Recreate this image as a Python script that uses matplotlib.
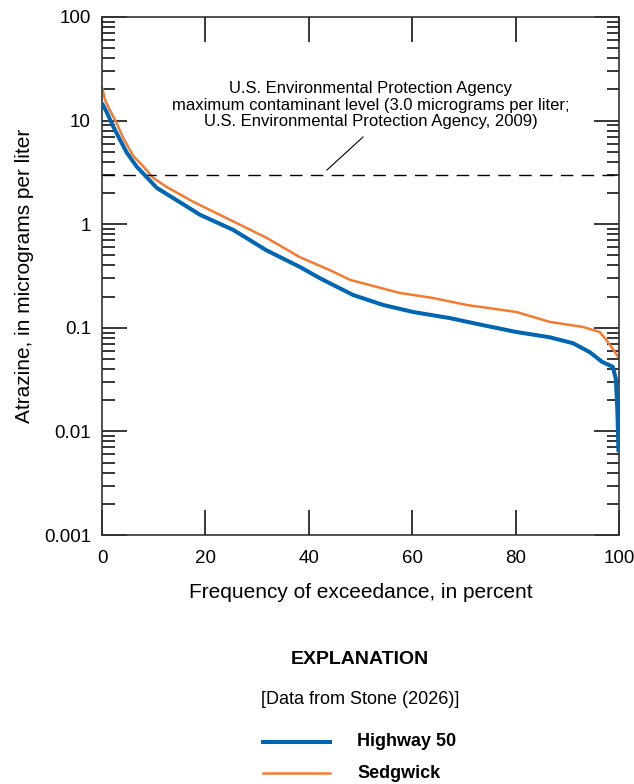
import numpy as np
import matplotlib
matplotlib.use("Agg")
import matplotlib.pyplot as plt
from matplotlib.ticker import LogLocator, NullFormatter
from matplotlib.lines import Line2D

plt.rcParams['font.family'] = ['Liberation Sans', 'DejaVu Sans']

# exceedance curves (percent, micrograms per liter)
hwy_x = [0, 1, 2.2, 3.5, 4.8, 6.7, 8.6, 10.6, 14.4, 19, 25.4, 31.8, 38.3, 42.2, 48.6, 54.4, 60.2,
         67.3, 73.7, 80.2, 86.6, 91.1, 94.4, 96.7, 98.8, 99.4, 99.7, 99.9]
hwy_y = [14.8, 11.8, 8.7, 6.5, 4.9, 3.6, 2.86, 2.24, 1.71, 1.23, 0.88, 0.56, 0.386, 0.30, 0.207, 0.166, 0.142,
         0.124, 0.106, 0.091, 0.081, 0.071, 0.058, 0.047, 0.042, 0.032, 0.015, 0.0063]

sed_x = [0, 0.6, 1.5, 2.8, 4.1, 6, 8, 9.9, 12.5, 17.7, 24.8, 31.8, 38.3, 44.1, 48, 57.6, 64, 70.6,
         80.2, 86.6, 93, 96.3, 98.3, 100]
sed_y = [21, 15.8, 12.7, 9.5, 6.8, 4.6, 3.6, 2.8, 2.29, 1.64, 1.1, 0.74, 0.48, 0.36, 0.29, 0.217, 0.194, 0.166,
         0.142, 0.114, 0.102, 0.091, 0.068, 0.051]

mcl = 3.0
series_names = ["Highway 50", "Sedgwick"]
colors = ["#0066b3", "#f47a30"]
widths = [2.9, 1.8]

fs = 13

fig = plt.figure(figsize=(6.34, 7.84), dpi=100)
ax = fig.add_axes([102 / 634, 1 - 535 / 784, 517 / 634, 518 / 784])

ax.plot(hwy_x, hwy_y, color=colors[0], lw=widths[0], solid_capstyle="butt", zorder=3)
ax.plot(sed_x, sed_y, color=colors[1], lw=widths[1], solid_capstyle="butt", zorder=2)

ax.axhline(mcl, color="black", lw=1, dashes=(9, 6))

ax.set_yscale("log")
ax.set_xlim(0, 100)
ax.set_ylim(0.001, 100)
ax.set_xticks([0, 20, 40, 60, 80, 100])
ax.set_yticks([0.001, 0.01, 0.1, 1, 10, 100])
ax.set_yticklabels(["0.001", "0.01", "0.1", "1", "10", "100"])
ax.yaxis.set_minor_locator(LogLocator(base=10, subs=np.arange(2, 10)))
ax.yaxis.set_minor_formatter(NullFormatter())

ax.tick_params(axis="both", which="major", direction="in", length=18, width=1.1,
               labelsize=fs + 0.5, top=True, right=True)
ax.tick_params(axis="x", which="major", pad=11)
ax.tick_params(axis="y", which="major", pad=8)
ax.tick_params(axis="y", which="minor", direction="in", length=9, width=1.1, right=True)
ax.tick_params(axis="x", which="minor", bottom=False, top=False)
for sp in ax.spines.values():
    sp.set_linewidth(1.2)
    sp.set_color("#333333")

ax.set_xlabel("Frequency of exceedance, in percent", fontsize=fs + 2, labelpad=11)
ax.set_ylabel("Atrazine, in micrograms per liter", fontsize=fs + 2, labelpad=7)

ax.text(52, 14.1, "U.S. Environmental Protection Agency\n"
        "maximum contaminant level (3.0 micrograms per liter;\n"
        "U.S. Environmental Protection Agency, 2009)",
        ha="center", va="center", fontsize=fs - 1, linespacing=1.15)
ax.plot([50.5, 43.5], [6.95, 3.33], color="black", lw=0.8)

# explanation block
fig.text(360 / 634, 1 - 660 / 784, "EXPLANATION", ha="center", va="center",
         fontsize=fs + 1, fontweight="bold")
fig.text(360 / 634, 1 - 700 / 784, "[Data from Stone (2026)]", ha="center", va="center",
         fontsize=fs)
for i, (name, c, w) in enumerate(zip(series_names, colors, widths)):
    yy = 1 - (742 + 31 * i) / 784
    fig.add_artist(Line2D([263 / 634, 330 / 634], [yy, yy], color=c, lw=w,
                          transform=fig.transFigure))
    fig.text(357 / 634, yy, name, ha="left", va="center", fontsize=fs,
             fontweight="bold")

fig.savefig("out.png", dpi=100)
